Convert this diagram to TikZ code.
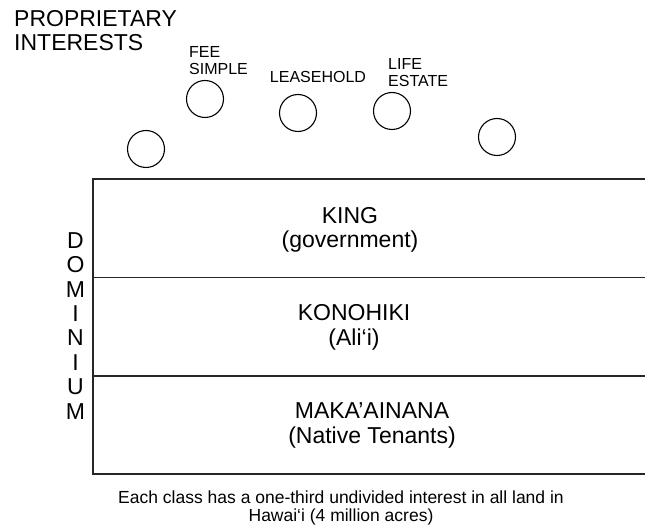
\documentclass[tikz,border=0pt]{standalone}
\usepackage{fontspec}
\setmainfont{Liberation Sans}
\begin{document}
\begin{tikzpicture}[x=1pt,y=-1pt,
  big/.style={font=\fontsize{23}{24.4}\selectfont, inner sep=0pt},
  small/.style={font=\fontsize{16}{17}\selectfont, inner sep=0pt},
  note/.style={font=\fontsize{17.5}{18}\selectfont, inner sep=0pt},
  ring/.style={circle, draw, line width=1.1pt, minimum size=37pt, inner sep=0pt},
  rule/.style={line width=1.2pt, draw=black!85}]
\useasboundingbox (0,0) rectangle (645,526);
% title (anchor base = baseline of last line)
\node[big, anchor=base west, align=left] (title) at (14,51) {PROPRIETARY\\INTERESTS};
% circle labels
\node[small, anchor=base west, align=left] (fee) at (189,75) {FEE\\SIMPLE};
\node[small, anchor=base] (lease) at (318,83) {LEASEHOLD};
\node[small, anchor=base west, align=left] (life) at (388,87) {LIFE\\ESTATE};
% circles
\node[ring] (c1) at (146,149) {};
\node[ring] (c2) at (205,99) {};
\node[ring] (c3) at (298,113) {};
\node[ring] (c4) at (392,111) {};
\node[ring] (c5) at (497,137) {};
% box
\coordinate (tl) at (93,179);
\coordinate (tr) at (645,179);
\coordinate (m1l) at (93,277.5);
\coordinate (m1r) at (645,277.5);
\coordinate (m2l) at (93,376);
\coordinate (m2r) at (645,376);
\coordinate (bl) at (93,474);
\coordinate (br) at (645,474);
\draw[rule] (tr) -- (tl) -- (bl) -- (br);
\draw[rule] (m1l) -- (m1r);
\draw[rule] (m2l) -- (m2r);
% class labels
\node[big, anchor=base, align=center] (king) at (350,248) {KING\\(government)};
\node[big, anchor=base, align=center] (kono) at (354,345) {KONOHIKI\\(Ali‘i)};
\node[big, anchor=base, align=center] (maka) at (372,443) {MAKA’AINANA\\(Native Tenants)};
% dominium
\node[big, anchor=base, align=center] (dom) at (75.5,419) {D\\O\\M\\I\\N\\I\\U\\M};
% note
\node[note, anchor=base, align=center] (note) at (341,521) {Each class has a one-third undivided interest in all land in\\Hawai‘i (4 million acres)};
\end{tikzpicture}
\end{document}
